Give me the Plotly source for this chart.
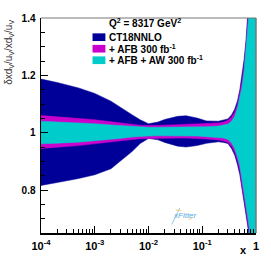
import plotly.graph_objects as go

# ---- data ----
x_vals = [1e-4, 2e-4, 5e-4, 1e-3, 2e-3, 3e-3, 5e-3, 7e-3, 0.01, 0.015, 0.02, 0.035, 0.05,
          0.08, 0.12, 0.2, 0.25, 0.3, 0.35, 0.4, 0.45, 0.5, 0.55, 0.6, 0.65, 0.7, 0.75,
          0.8, 0.85, 0.9, 1.0]
ct18_up = [1.187, 1.175, 1.156, 1.137, 1.110, 1.090, 1.062, 1.045, 1.031, 1.037, 1.046,
           1.057, 1.059, 1.051, 1.041, 1.040, 1.043, 1.048, 1.062, 1.082, 1.110, 1.150,
           1.205, 1.255, 1.320, 1.395, 1.470, 1.550, 1.630, 1.720, 1.900]
ct18_lo = [0.816, 0.826, 0.840, 0.853, 0.874, 0.900, 0.935, 0.962, 0.980, 0.975, 0.966,
           0.953, 0.950, 0.955, 0.963, 0.968, 0.966, 0.962, 0.945, 0.922, 0.890, 0.853,
           0.792, 0.755, 0.715, 0.675, 0.635, 0.570, 0.510, 0.440, 0.300]
afb_up = [1.060, 1.056, 1.050, 1.045, 1.038, 1.034, 1.029, 1.026, 1.025, 1.025, 1.026,
          1.028, 1.029, 1.030, 1.031, 1.034, 1.037, 1.043, 1.054, 1.072, 1.097, 1.135,
          1.180, 1.235, 1.295, 1.365, 1.440, 1.510, 1.590, 1.680, 1.860]
afb_lo = [0.945, 0.949, 0.955, 0.960, 0.967, 0.971, 0.976, 0.979, 0.980, 0.981, 0.981,
          0.981, 0.981, 0.980, 0.978, 0.974, 0.971, 0.966, 0.953, 0.932, 0.903, 0.868,
          0.810, 0.770, 0.730, 0.690, 0.650, 0.590, 0.530, 0.460, 0.320]
aw_up = [1.040, 1.038, 1.034, 1.031, 1.027, 1.025, 1.022, 1.020, 1.019, 1.019, 1.019,
         1.019, 1.019, 1.020, 1.021, 1.023, 1.026, 1.030, 1.040, 1.057, 1.085, 1.120,
         1.160, 1.215, 1.275, 1.335, 1.405, 1.470, 1.550, 1.630, 1.800]
aw_lo = [0.961, 0.963, 0.967, 0.971, 0.977, 0.980, 0.985, 0.987, 0.988, 0.989, 0.989,
         0.989, 0.989, 0.988, 0.986, 0.983, 0.981, 0.976, 0.964, 0.945, 0.917, 0.885,
         0.830, 0.788, 0.748, 0.708, 0.668, 0.610, 0.550, 0.480, 0.350]

series_names = ["CT18NNLO", "+ AFB 300 fb<sup>-1</sup>", "+ AFB + AW 300 fb<sup>-1</sup>"]
series_colors = ["#000099", "#cc00cc", "#00cccc"]
bands = [(ct18_up, ct18_lo), (afb_up, afb_lo), (aw_up, aw_lo)]

x_tickvals = [1e-4, 1e-3, 1e-2, 1e-1, 1]
x_ticktext = ["10<sup>-4</sup>", "10<sup>-3</sup>", "10<sup>-2</sup>", "10<sup>-1</sup>", "1"]
y_tickvals = [0.8, 1.0, 1.2, 1.4]
y_ticktext = ["0.8", "1", "1.2", "1.4"]

FONT = "Liberation Sans"

fig = go.Figure()
for (up, lo), col, name in zip(bands, series_colors, series_names):
    fig.add_trace(go.Scatter(
        x=x_vals + x_vals[::-1], y=up + lo[::-1],
        fill="toself", fillcolor=col, mode="lines",
        line=dict(width=0.5, color=col),
        name=name, showlegend=False, hoverinfo="skip"))

x_minor = [m * 10 ** e for e in range(-4, 0) for m in range(2, 10)]
y_minor = [round(0.65 + 0.05 * i, 2) for i in range(16)]

fig.update_xaxes(type="log", range=[-4, 0], showgrid=False, zeroline=False,
                 showline=True, linecolor="black", linewidth=1.5,
                 tickmode="array", tickvals=x_tickvals, ticktext=x_ticktext,
                 ticks="inside", ticklen=7, tickwidth=1, tickcolor="black",
                 ticklabelstandoff=2,
                 minor=dict(tickmode="array", tickvals=x_minor, ticks="inside",
                            ticklen=4, tickwidth=1, tickcolor="black"),
                 tickfont=dict(family=FONT, size=11, color="black", weight="bold"))
fig.update_yaxes(range=[0.65, 1.4], showgrid=False, zeroline=False,
                 showline=True, linecolor="black", linewidth=1.5,
                 tickmode="array", tickvals=y_tickvals, ticktext=y_ticktext,
                 ticks="inside", ticklen=7, tickwidth=1, tickcolor="black",
                 ticklabelstandoff=2,
                 minor=dict(tickmode="array", tickvals=y_minor, ticks="inside",
                            ticklen=4, tickwidth=1, tickcolor="black"),
                 tickfont=dict(family=FONT, size=10, color="black", weight="bold"))

L, R, T, B = 41, 13, 14, 26
W, H = 271, 264
pw, ph = W - L - R, H - T - B

def px(xp):
    return (xp - L) / pw

def py(yp):
    return (H - B - yp) / ph

shapes = [
    dict(type="line", xref="paper", yref="paper", x0=0, x1=1, y0=1, y1=1,
         line=dict(color="#777777", width=1)),
    dict(type="line", xref="paper", yref="paper", x0=1, x1=1, y0=0, y1=1,
         line=dict(color="#777777", width=1.5)),
]
annotations = []
# legend header
annotations.append(dict(xref="paper", yref="paper", x=px(108), y=py(19.5), xanchor="left",
                        yanchor="middle", showarrow=False,
                        text="Q<sup>2</sup> = 8317 GeV<sup>2</sup>",
                        font=dict(family=FONT, size=10, color="black", weight="bold")))
row_centers = [34, 46, 58]
for rc, col, name in zip(row_centers, series_colors, series_names):
    shapes.append(dict(type="rect", xref="paper", yref="paper",
                       x0=px(93), x1=px(106), y0=py(rc - 4), y1=py(rc + 4),
                       fillcolor=col, line=dict(width=0)))
    annotations.append(dict(xref="paper", yref="paper", x=px(108), y=py(rc), xanchor="left",
                            yanchor="middle", showarrow=False, text=name,
                            font=dict(family=FONT, size=10, color="black", weight="bold")))

# axis titles
annotations.append(dict(xref="paper", yref="paper", x=px(8), y=1.0, xanchor="center",
                        yanchor="top", showarrow=False, textangle=-90,
                        text="δxd<sub>V</sub>/u<sub>V</sub>/xd<sub>V</sub>/u<sub>V</sub>",
                        font=dict(family=FONT, size=10, color="#333333")))
annotations.append(dict(xref="paper", yref="paper", x=px(245.5), y=py(255.5), xanchor="center",
                        yanchor="middle", showarrow=False, text="x",
                        font=dict(family=FONT, size=11, color="black", weight="bold")))
# xFitter logo
annotations.append(dict(xref="paper", yref="paper", x=px(186), y=py(220), xanchor="center",
                        yanchor="middle", showarrow=False, text="xFitter",
                        font=dict(family=FONT, size=8, color="#59aee0", style="italic")))
shapes.append(dict(type="line", xref="paper", yref="paper", x0=px(173), y0=py(229),
                   x1=px(181), y1=py(212), line=dict(color="#8fc8ec", width=1)))
shapes.append(dict(type="line", xref="paper", yref="paper", x0=px(177), y0=py(214),
                   x1=px(183), y1=py(215), line=dict(color="#f0d070", width=1)))
shapes.append(dict(type="line", xref="paper", yref="paper", x0=px(190), y0=py(224),
                   x1=px(194), y1=py(222), line=dict(color="#f0d070", width=1)))

fig.update_layout(width=W, height=H, margin=dict(l=L, r=R, t=T, b=B),
                  paper_bgcolor="white", plot_bgcolor="white",
                  shapes=shapes, annotations=annotations, showlegend=False)

fig.write_html("out.html", config={"displayModeBar": False, "staticPlot": True},
               post_script="document.body.style.margin='0';document.body.style.overflow='hidden';")
